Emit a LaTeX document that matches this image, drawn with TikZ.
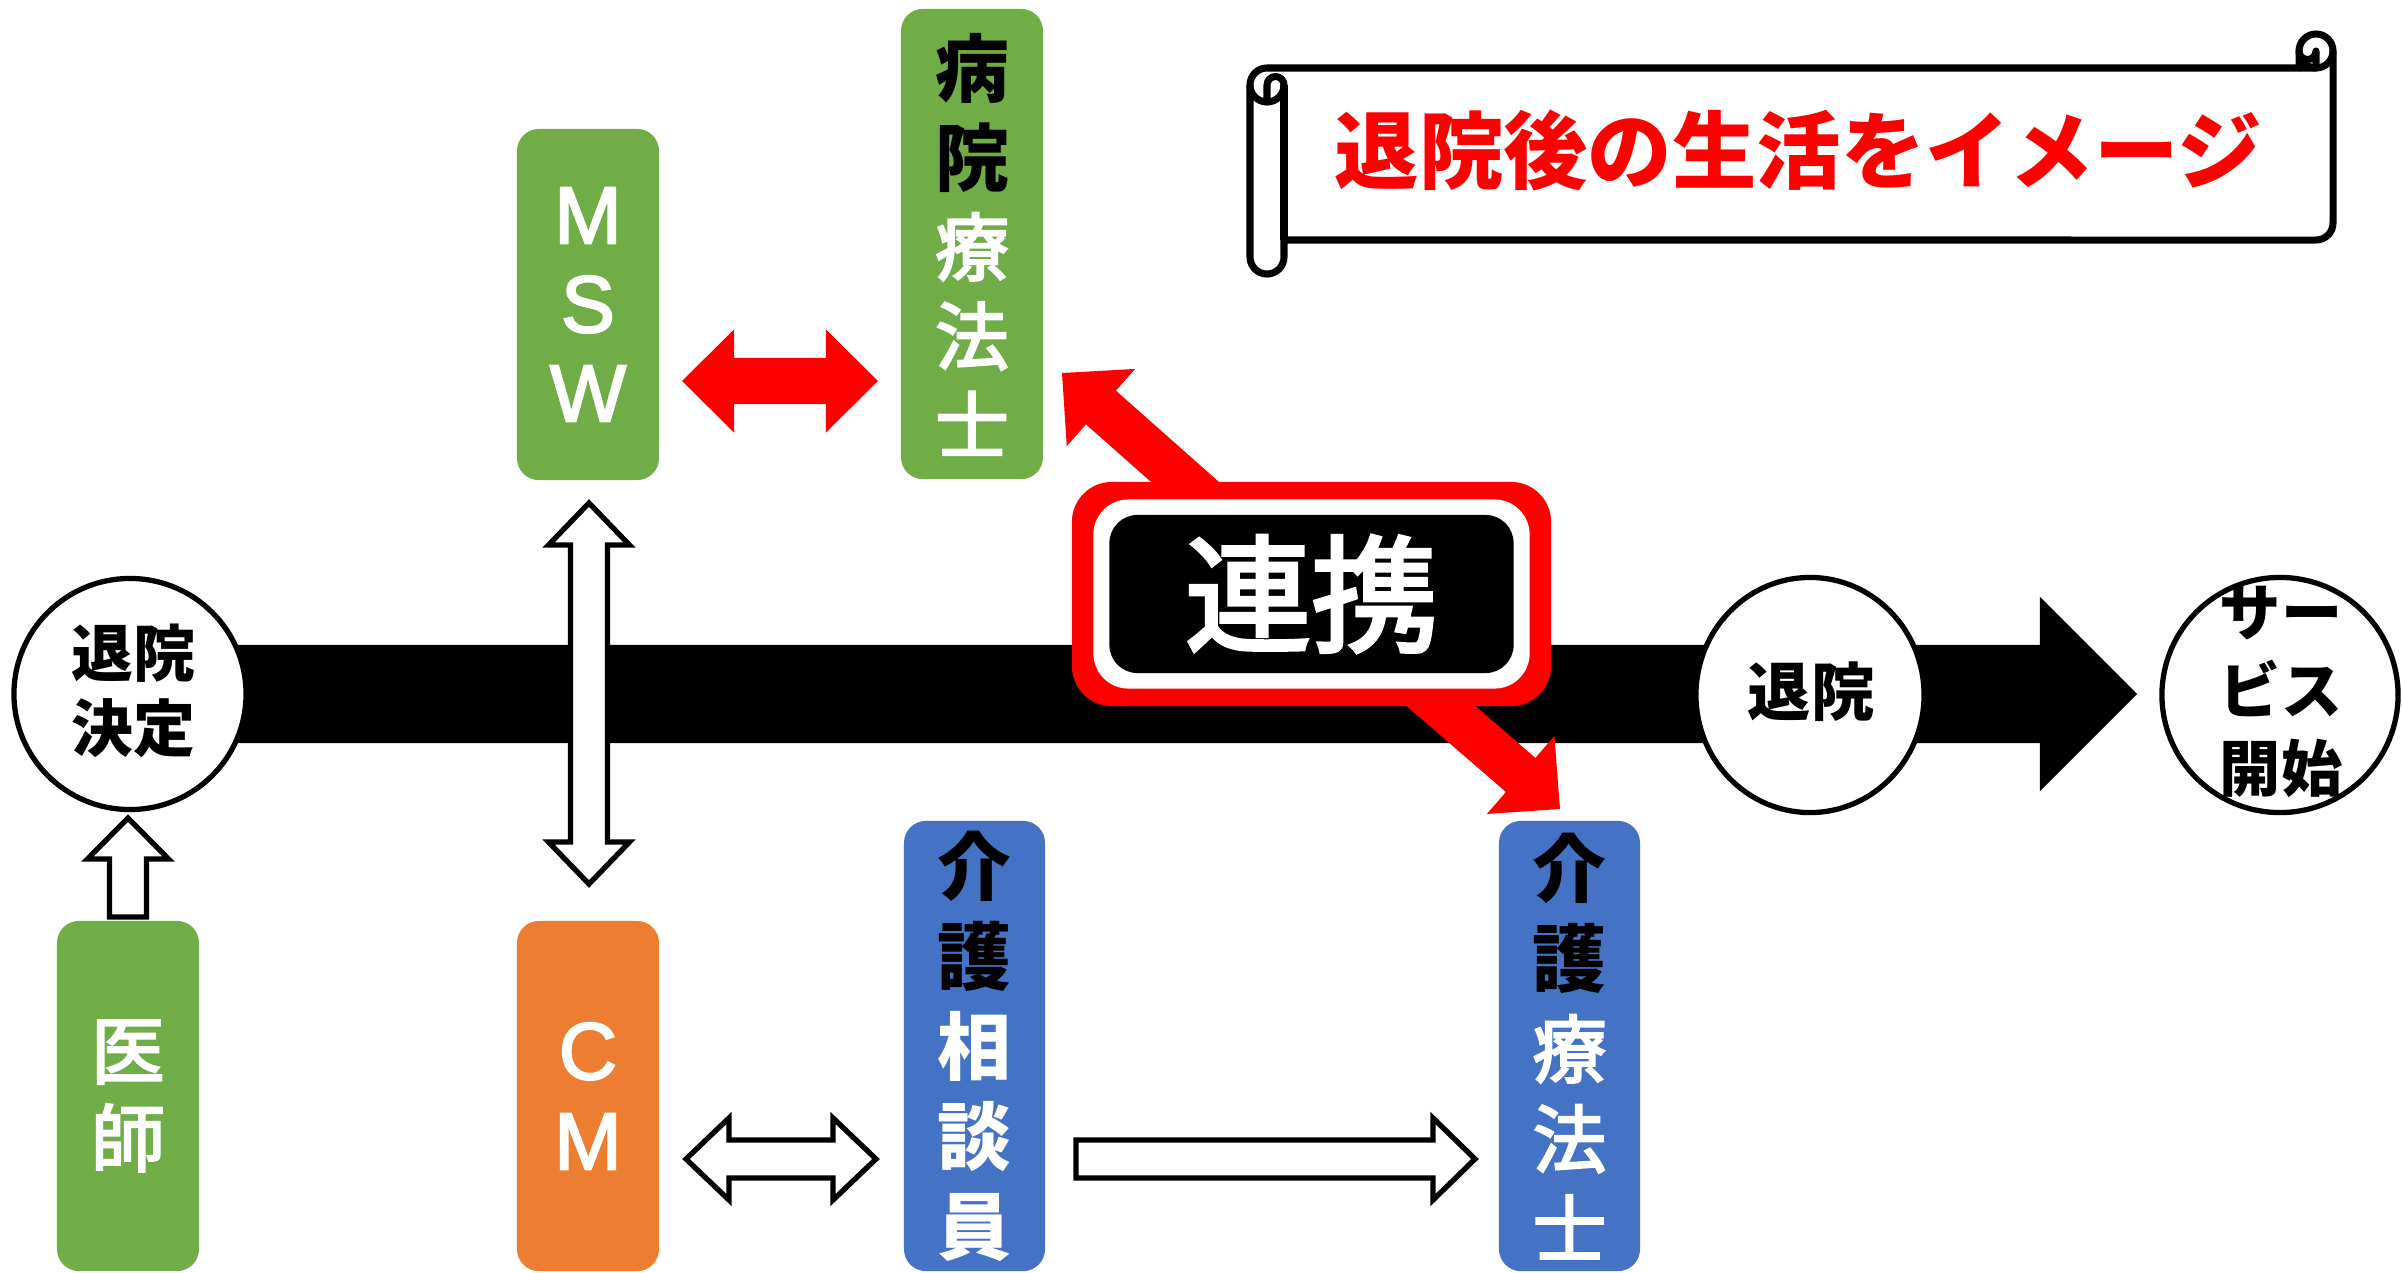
\documentclass[tikz,border=0pt]{standalone}
\usepackage{fontspec}
\setmainfont{Noto Sans CJK JP}
\newfontfamily\jpm[FakeBold=3]{Noto Sans CJK JP}
\newfontfamily\lat[FakeBold=2.5]{Liberation Sans}
\usetikzlibrary{calc,shapes.geometric}
\definecolor{pgreen}{HTML}{70AD47}
\definecolor{porange}{HTML}{ED7D31}
\definecolor{pblue}{HTML}{4472C4}
\definecolor{pred}{HTML}{FF0000}
\pgfdeclarelayer{bg}
\pgfdeclarelayer{mid}
\pgfsetlayers{bg,mid,main}
% single block arrow: style, from, to, shaft half width, head half width, head length
\newcommand\blockarrow[6]{%
  \coordinate (bab) at ($(#3)!#6!(#2)$);
  \path[#1] ($(#2)!#4!90:(#3)$) -- ($(bab)!#4!90:(#3)$) -- ($(bab)!#5!90:(#3)$) -- (#3)
    -- ($(bab)!#5!-90:(#3)$) -- ($(bab)!#4!-90:(#3)$) -- ($(#2)!#4!-90:(#3)$) -- cycle;}
% double block arrow
\newcommand\dblarrow[6]{%
  \coordinate (baa) at ($(#2)!#6!(#3)$);
  \coordinate (bab) at ($(#3)!#6!(#2)$);
  \path[#1] (#2) -- ($(baa)!#5!90:(#3)$) -- ($(baa)!#4!90:(#3)$) -- ($(bab)!#4!-90:(#2)$)
    -- ($(bab)!#5!-90:(#2)$) -- (#3) -- ($(bab)!#5!90:(#2)$) -- ($(bab)!#4!90:(#2)$)
    -- ($(baa)!#4!-90:(#3)$) -- ($(baa)!#5!-90:(#3)$) -- cycle;}
\tikzset{
  rbox/.style={rounded corners=0.22cm, minimum width=1.42cm, inner sep=0pt, align=center, text=white},
  ovalnode/.style={draw=black, line width=1.5pt, fill=white, ellipse, inner sep=0pt},
  hollowarr/.style={draw=black, fill=white, line width=1.5pt},
  redarr/.style={fill=pred},
  scrollline/.style={draw=black, line width=2pt, line join=round},
}
\begin{document}
\begin{tikzpicture}[x=0.01cm, y=-0.01cm]
\useasboundingbox (0,0) rectangle (2402,1272);
\begin{pgfonlayer}{bg}
  \fill[white] (0,0) rectangle (2402,1272);
\end{pgfonlayer}

% ---------- boxes ----------
\node[rbox, fill=pgreen, minimum height=3.51cm, font=\lat\fontsize{23}{25.3}\selectfont] (msw) at (588,304.5) {M\\S\\W};
\node[rbox, fill=pgreen, minimum height=4.70cm, font=\jpm\fontsize{21}{25.4}\selectfont] (pt) at (972,244)
  {\textcolor{black}{\rmfamily\bfseries 病}\\\textcolor{black}{\rmfamily\bfseries 院}\\療\\法\\士};
\node[rbox, fill=pgreen, minimum height=3.50cm, font=\jpm\fontsize{21}{25}\selectfont] (ds) at (128,1096) {医\\師};
\node[rbox, fill=porange, minimum height=3.50cm, font=\lat\fontsize{23}{25.6}\selectfont] (cm) at (588,1096) {C\\M};
\node[rbox, fill=pblue, minimum height=4.50cm, minimum width=1.41cm, font=\bfseries\fontsize{21}{25.6}\selectfont] (kc) at (974.5,1046)
  {\textcolor{black}{介}\\\textcolor{black}{護}\\相\\談\\員};
\node[rbox, fill=pblue, minimum height=4.50cm, minimum width=1.41cm, font=\jpm\fontsize{21}{25.6}\selectfont] (kt) at (1569.5,1046)
  {\textcolor{black}{\rmfamily\bfseries 介}\\\textcolor{black}{\rmfamily\bfseries 護}\\療\\法\\士};

% ---------- ellipses ----------
\node[ovalnode, minimum width=2.32cm, minimum height=2.31cm] (dd) at (130,694) {};
\node[font=\bfseries\fontsize{17.6}{21.3}\selectfont, align=center] (ddt) at (133,691) {退院\\決定};
\node[ovalnode, minimum width=2.28cm, minimum height=2.35cm] (dc) at (1810,695) {};
\node[font=\bfseries\fontsize{18}{18}\selectfont] (dct) at (1811,692) {退院};
\node[ovalnode, minimum width=2.36cm, minimum height=2.35cm] (sv) at (2280,695) {};
\node[font=\bfseries\fontsize{17.4}{22.2}\selectfont, align=center] (svt) at (2281,692) {サー\\ビス\\開始};

% ---------- 連携 ----------
\node[fill=pred, rounded corners=0.40cm, minimum width=4.79cm, minimum height=2.24cm, inner sep=0pt] (lkr) at (1311.5,594) {};
\node[fill=white, rounded corners=0.35cm, minimum width=4.36cm, minimum height=1.89cm, inner sep=0pt] (lkw) at (lkr.center) {};
\node[fill=black, rounded corners=0.28cm, minimum width=4.04cm, minimum height=1.58cm, inner sep=0pt,
      text=white, font=\jpm\fontsize{36}{36}\selectfont] (lk) at (lkr.center) {連携};

% ---------- main timeline arrow ----------
\coordinate (mtip) at (2137,694);
\begin{pgfonlayer}{bg}
  \blockarrow{fill=black}{dd.center}{mtip}{0.49cm}{0.97cm}{0.97cm}
\end{pgfonlayer}

% ---------- red arrows ----------
\coordinate (t1) at (1062,373);
\coordinate (t2) at (1560,809);
\coordinate (r1) at (682,381);
\coordinate (r2) at (878,381);
\begin{pgfonlayer}{mid}
  \blockarrow{redarr}{lk.center}{t1}{0.225cm}{0.515cm}{0.52cm}
  \blockarrow{redarr}{lk.center}{t2}{0.225cm}{0.515cm}{0.52cm}
\end{pgfonlayer}
\dblarrow{redarr}{r1}{r2}{0.23cm}{0.515cm}{0.52cm}

% ---------- white outlined arrows ----------
\coordinate (v1) at (589,503);
\coordinate (v2) at (589,884);
\dblarrow{hollowarr}{v1}{v2}{0.185cm}{0.405cm}{0.42cm}
\coordinate (h1) at (686,1159);
\coordinate (h2) at (876,1159);
\dblarrow{hollowarr}{h1}{h2}{0.19cm}{0.41cm}{0.43cm}
\coordinate (a1) at (1076,1159);
\coordinate (a2) at (1475,1159);
\blockarrow{hollowarr}{a1}{a2}{0.19cm}{0.41cm}{0.42cm}
\coordinate (u1) at (128,917);
\coordinate (u2) at (128,818);
\blockarrow{hollowarr}{u1}{u2}{0.185cm}{0.405cm}{0.41cm}

% ---------- scroll banner ----------
\path[scrollline, fill=white] (1250,85) arc[start angle=-180, end angle=-270, radius=0.17cm]
  -- (2299,68) -- (2299,51) arc[start angle=-180, end angle=-360, radius=0.17cm]
  -- (2333,223) arc[start angle=0, end angle=-90, radius=0.17cm]
  -- (1284,240) -- (1284,257) arc[start angle=0, end angle=-180, radius=0.17cm]
  -- cycle;
\path[scrollline] (2299,68) -- (2316,68) arc[start angle=-90, end angle=0, radius=0.17cm];
\path[scrollline, fill=black!25] (2316,68) -- (2316,51) arc[start angle=0, end angle=-180, radius=0.085cm]
  arc[start angle=180, end angle=270, radius=0.17cm] -- cycle;
\path[scrollline] (1267,102) -- (1267,85) arc[start angle=180, end angle=0, radius=0.085cm]
  arc[start angle=0, end angle=-180, radius=0.17cm];
\path[scrollline] (1284,85) -- (1284,240);
\node[text=pred, font=\bfseries\fontsize{24}{24}\selectfont] (sct) at (1798,150) {退院後の生活をイメージ};
\end{tikzpicture}
\end{document}
